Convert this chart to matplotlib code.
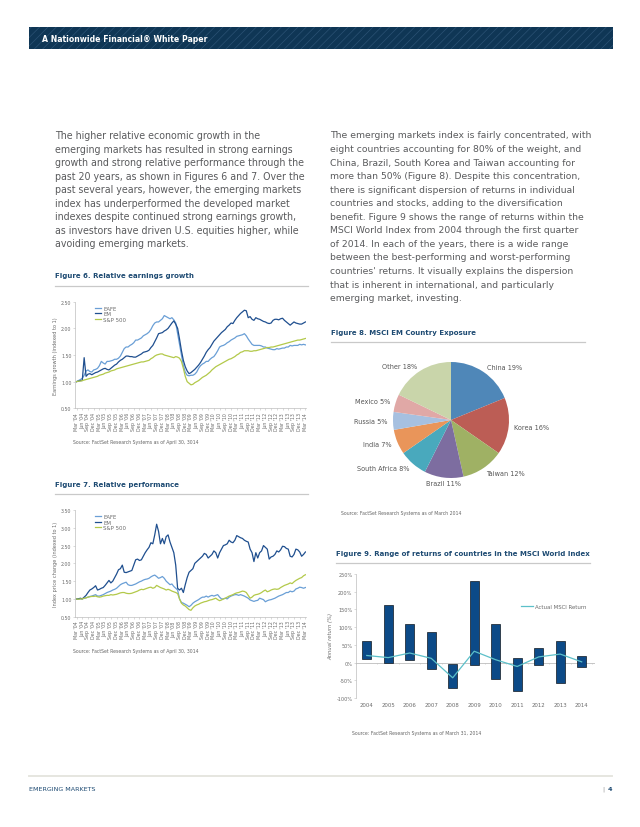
import numpy as np
import matplotlib.pyplot as plt
import matplotlib.patches as mpatches
from matplotlib.lines import Line2D
from matplotlib.ticker import FuncFormatter

plt.rcParams['font.family'] = ['DejaVu Sans']
plt.rcParams['hatch.linewidth'] = 0.5

# ---- data ----
series_names = ['EAFE', 'EM', 'S&P 500']

# Figure 6: earnings growth, monthly Mar '04 .. Mar '14
eps_eafe = [1.00, 1.02, 1.04, 1.06, 1.12, 1.20, 1.22, 1.19, 1.18, 1.22, 1.23, 1.25,
            1.30, 1.38, 1.35, 1.33, 1.38, 1.38, 1.39, 1.40, 1.42, 1.42, 1.44, 1.48,
            1.55, 1.62, 1.65, 1.65, 1.68, 1.70, 1.73, 1.78, 1.78, 1.80, 1.82, 1.86,
            1.88, 1.90, 1.93, 1.98, 2.05, 2.10, 2.12, 2.12, 2.15, 2.18, 2.24, 2.22,
            2.20, 2.18, 2.20, 2.16, 2.10, 1.90, 1.70, 1.50, 1.30, 1.18, 1.12, 1.11,
            1.12, 1.12, 1.14, 1.18, 1.25, 1.30, 1.33, 1.35, 1.38, 1.38, 1.42, 1.45,
            1.47, 1.52, 1.58, 1.65, 1.67, 1.68, 1.70, 1.73, 1.75, 1.78, 1.80, 1.82,
            1.85, 1.86, 1.87, 1.88, 1.90, 1.86, 1.80, 1.75, 1.70, 1.68, 1.68, 1.68,
            1.68, 1.67, 1.65, 1.65, 1.63, 1.62, 1.61, 1.60, 1.60, 1.62, 1.61, 1.62,
            1.63, 1.63, 1.65, 1.65, 1.68, 1.67, 1.68, 1.68, 1.68, 1.70, 1.69, 1.70,
            1.69]
eps_em = [1.00, 1.01, 1.02, 1.02, 1.45, 1.10, 1.14, 1.15, 1.13, 1.15, 1.17, 1.18,
          1.20, 1.22, 1.24, 1.25, 1.23, 1.22, 1.25, 1.28, 1.31, 1.33, 1.37, 1.40,
          1.42, 1.45, 1.48, 1.48, 1.47, 1.47, 1.46, 1.46, 1.48, 1.50, 1.52, 1.55,
          1.56, 1.57, 1.59, 1.64, 1.68, 1.75, 1.82, 1.90, 1.91, 1.92, 1.95, 1.97,
          2.00, 2.05, 2.10, 2.14, 2.08, 2.00, 1.80, 1.58, 1.40, 1.28, 1.20, 1.15,
          1.17, 1.20, 1.23, 1.27, 1.31, 1.36, 1.42, 1.48, 1.55, 1.60, 1.64, 1.70,
          1.76, 1.80, 1.84, 1.88, 1.92, 1.95, 1.98, 2.03, 2.06, 2.10, 2.09, 2.15,
          2.20, 2.24, 2.28, 2.31, 2.34, 2.33, 2.20, 2.22, 2.17, 2.15, 2.20, 2.18,
          2.17, 2.15, 2.13, 2.12, 2.10, 2.09, 2.10, 2.15, 2.17, 2.17, 2.16, 2.18,
          2.19, 2.15, 2.12, 2.09, 2.06, 2.09, 2.12, 2.10, 2.09, 2.08, 2.08, 2.10,
          2.12]
eps_sp = [1.00, 1.01, 1.01, 1.02, 1.03, 1.04, 1.05, 1.06, 1.07, 1.08, 1.09, 1.10,
          1.12, 1.13, 1.14, 1.16, 1.17, 1.18, 1.20, 1.21, 1.22, 1.24, 1.25, 1.26,
          1.27, 1.28, 1.29, 1.30, 1.31, 1.32, 1.33, 1.34, 1.35, 1.36, 1.37, 1.37,
          1.38, 1.39, 1.40, 1.43, 1.45, 1.48, 1.50, 1.51, 1.52, 1.52, 1.50, 1.49,
          1.48, 1.47, 1.46, 1.45, 1.47, 1.46, 1.44, 1.38, 1.25, 1.10, 1.00, 0.97,
          0.94, 0.95, 0.98, 1.00, 1.02, 1.05, 1.08, 1.10, 1.12, 1.15, 1.18, 1.22,
          1.25, 1.28, 1.30, 1.32, 1.34, 1.36, 1.38, 1.40, 1.42, 1.43, 1.45, 1.47,
          1.50, 1.52, 1.55, 1.56, 1.58, 1.58, 1.58, 1.57, 1.57, 1.58, 1.58, 1.59,
          1.60, 1.61, 1.62, 1.63, 1.64, 1.64, 1.65, 1.65, 1.66, 1.67, 1.68, 1.69,
          1.70, 1.71, 1.72, 1.73, 1.74, 1.75, 1.76, 1.77, 1.78, 1.78, 1.79, 1.80,
          1.81]

# Figure 7: index price change, monthly Mar '04 .. Mar '14
px_eafe = [1.00, 1.00, 1.00, 1.00, 1.02, 1.03, 1.05, 1.07, 1.08, 1.10, 1.12, 1.08,
           1.08, 1.10, 1.12, 1.15, 1.18, 1.20, 1.22, 1.25, 1.27, 1.30, 1.35, 1.40,
           1.43, 1.45, 1.47, 1.40, 1.38, 1.38, 1.40, 1.42, 1.45, 1.48, 1.50, 1.53,
           1.55, 1.56, 1.58, 1.62, 1.65, 1.67, 1.63, 1.58, 1.60, 1.63, 1.58, 1.50,
           1.45, 1.40, 1.42, 1.35, 1.30, 1.25, 1.00, 0.90, 0.88, 0.85, 0.82, 0.78,
           0.82, 0.88, 0.92, 0.95, 0.98, 1.02, 1.05, 1.05, 1.08, 1.05, 1.08, 1.10,
           1.08, 1.10, 1.12, 1.05, 1.00, 1.00, 1.02, 1.00, 1.05, 1.08, 1.10, 1.12,
           1.12, 1.10, 1.12, 1.10, 1.08, 1.05, 1.02, 0.97, 0.95, 0.93, 0.95, 0.96,
           1.02, 1.00, 0.98, 0.92, 0.95, 0.97, 0.98, 1.00, 1.02, 1.05, 1.08, 1.10,
           1.12, 1.15, 1.18, 1.18, 1.22, 1.20, 1.22, 1.28, 1.30, 1.33, 1.32, 1.30,
           1.32]
px_em = [1.00, 1.00, 1.02, 1.00, 1.05, 1.10, 1.18, 1.25, 1.28, 1.32, 1.37, 1.25,
         1.27, 1.30, 1.32, 1.38, 1.45, 1.52, 1.45, 1.50, 1.60, 1.70, 1.82, 1.85,
         1.95, 1.75, 1.74, 1.76, 1.78, 1.80, 1.95, 2.10, 2.12, 2.08, 2.10, 2.20,
         2.30, 2.38, 2.45, 2.58, 2.55, 2.80, 3.10, 2.90, 2.55, 2.70, 2.55, 2.75,
         2.80, 2.60, 2.45, 2.30, 1.95, 1.30, 1.25, 1.30, 1.18, 1.40, 1.60, 1.75,
         1.80, 1.85, 2.00, 2.05, 2.10, 2.15, 2.20, 2.28, 2.25, 2.15, 2.20, 2.25,
         2.35, 2.30, 2.15, 2.30, 2.40, 2.50, 2.52, 2.55, 2.65, 2.60, 2.58, 2.65,
         2.78, 2.75, 2.72, 2.70, 2.65, 2.62, 2.60, 2.40, 2.30, 2.05, 2.30, 2.15,
         2.30, 2.35, 2.50, 2.45, 2.40, 2.12, 2.18, 2.20, 2.25, 2.35, 2.32, 2.38,
         2.48, 2.47, 2.42, 2.40, 2.20, 2.18, 2.25, 2.40, 2.38, 2.32, 2.20, 2.25,
         2.32]
px_sp = [1.00, 0.99, 1.00, 1.00, 1.02, 1.03, 1.05, 1.06, 1.07, 1.07, 1.08, 1.06,
         1.05, 1.06, 1.08, 1.09, 1.10, 1.10, 1.12, 1.11, 1.12, 1.13, 1.15, 1.17,
         1.18, 1.18, 1.16, 1.15, 1.15, 1.16, 1.18, 1.20, 1.22, 1.25, 1.27, 1.26,
         1.28, 1.30, 1.32, 1.33, 1.30, 1.32, 1.38, 1.35, 1.32, 1.30, 1.28, 1.25,
         1.27, 1.25, 1.22, 1.20, 1.18, 1.15, 1.00, 0.88, 0.83, 0.80, 0.75, 0.70,
         0.68, 0.75, 0.80, 0.83, 0.85, 0.88, 0.90, 0.92, 0.93, 0.95, 0.97, 0.98,
         1.00, 1.02, 0.98, 0.95, 0.97, 1.00, 1.02, 1.05, 1.08, 1.10, 1.12, 1.15,
         1.17, 1.18, 1.20, 1.22, 1.21, 1.18, 1.10, 1.02, 1.05, 1.10, 1.12, 1.13,
         1.15, 1.18, 1.22, 1.25, 1.20, 1.22, 1.25, 1.27, 1.28, 1.27, 1.28, 1.32,
         1.35, 1.38, 1.40, 1.42, 1.45, 1.43, 1.48, 1.52, 1.55, 1.58, 1.60, 1.65,
         1.68]

quarter_names = ['Mar', 'Jun', 'Sep', 'Dec']
quarter_labels = [f"{quarter_names[i % 4]} '{4 + i // 4:02d}" for i in range(41)]

# Figure 8: MSCI EM country exposure (%)
countries = ['China', 'Korea', 'Taiwan', 'Brazil', 'South Africa', 'India',
             'Russia', 'Mexico', 'Other']
weights = [19, 16, 12, 11, 8, 7, 5, 5, 18]

# Figure 9: range of country returns (%)
years = ['2004', '2005', '2006', '2007', '2008', '2009', '2010', '2011', '2012', '2013', '2014']
ret_high = [60, 163, 110, 85, -5, 231, 108, 14, 41, 61, 19]
ret_low = [10, -2, 8, -18, -71, -8, -45, -80, -6, -57, -13]
msci_ret = [20, 14, 27, 12, -43, 32, 8, -11, 16, 24, 2]

# ---- styles ----
col_eafe = '#6a9fd6'
col_em = '#1f4f8f'
col_sp = '#b3c94a'
navy = '#1d4a72'
body_col = '#5a5b5d'
grey_line = '#c9c9c9'
axis_col = '#bdbdbd'
tick_col = '#6b6b6b'
pie_cols = ['#4f87b8', '#bc5d55', '#9fb164', '#7d6da0', '#49a9bd', '#e9955a',
            '#a6c0e0', '#e0a8a6', '#c9d5aa']

W, H = 640, 828
fig = plt.figure(figsize=(6.4, 8.28), dpi=100)


def add_ax(l, t, r, b):
    return fig.add_axes([l / W, 1 - b / H, (r - l) / W, (b - t) / H])


def ptext(x, y, s, **kw):
    kw.setdefault('va', 'center')
    fig.text(x / W, 1 - y / H, s, **kw)


def hline(x0, x1, y, color, lw):
    fig.add_artist(Line2D([x0 / W, x1 / W], [1 - y / H, 1 - y / H], color=color, lw=lw,
                          transform=fig.transFigure))


# header banner
fig.add_artist(mpatches.Rectangle((29.4 / W, 1 - 50 / H), (613 - 29.4) / W, 21.7 / H,
                                  transform=fig.transFigure, facecolor='#0f3655',
                                  edgecolor='#2a5274', hatch='////', lw=0))
ptext(41.7, 39.2, 'A Nationwide Financial® White Paper', color='white',
      fontsize=5.6, fontweight='bold')

# body text
left_lines = [
    "The higher relative economic growth in the",
    "emerging markets has resulted in strong earnings",
    "growth and strong relative performance through the",
    "past 20 years, as shown in Figures 6 and 7. Over the",
    "past several years, however, the emerging markets",
    "index has underperformed the developed market",
    "indexes despite continued strong earnings growth,",
    "as investors have driven U.S. equities higher, while",
    "avoiding emerging markets.",
]
right_lines = [
    "The emerging markets index is fairly concentrated, with",
    "eight countries accounting for 80% of the weight, and",
    "China, Brazil, South Korea and Taiwan accounting for",
    "more than 50% (Figure 8). Despite this concentration,",
    "there is significant dispersion of returns in individual",
    "countries and stocks, adding to the diversification",
    "benefit. Figure 9 shows the range of returns within the",
    "MSCI World Index from 2004 through the first quarter",
    "of 2014. In each of the years, there is a wide range",
    "between the best-performing and worst-performing",
    "countries' returns. It visually explains the dispersion",
    "that is inherent in international, and particularly",
    "emerging market, investing.",
]
for i, s in enumerate(left_lines):
    ptext(55, 136 + i * 13.55, s, fontsize=6.85, color=body_col)
for i, s in enumerate(right_lines):
    ptext(330, 136 + i * 13.55, s, fontsize=6.7, color=body_col)

src_kw = dict(fontsize=3.3, color='#666666')


def line_chart(ax, eafe, em, sp, ylim, yticks, ylabel):
    xs = np.arange(len(em))
    ax.plot(xs, eafe, color=col_eafe, lw=0.9, label=series_names[0])
    ax.plot(xs, em, color=col_em, lw=0.9, label=series_names[1])
    ax.plot(xs, sp, color=col_sp, lw=0.9, label=series_names[2])
    ax.set_xlim(-0.8, 120.3)
    ax.set_ylim(*ylim)
    ax.set_yticks(yticks)
    ax.yaxis.set_major_formatter(FuncFormatter(lambda v, p: f'{v:.2f}'))
    ax.set_xticks(np.arange(0, 121, 3))
    ax.set_xticklabels(quarter_labels, rotation=90)
    for s in ['top', 'right']:
        ax.spines[s].set_visible(False)
    for s in ['left', 'bottom']:
        ax.spines[s].set_color(axis_col)
        ax.spines[s].set_linewidth(0.5)
    ax.tick_params(axis='both', length=1.5, width=0.4, color=axis_col,
                   labelsize=3.4, labelcolor=tick_col, pad=1)
    ax.set_ylabel(ylabel, fontsize=3.6, color=tick_col, labelpad=2)
    ax.legend(loc='upper left', bbox_to_anchor=(0.085, 0.96), frameon=False,
              fontsize=3.9, handlelength=1.2, handletextpad=0.4, labelspacing=0.05,
              borderpad=0, borderaxespad=0, labelcolor=tick_col)


title_kw = dict(fontsize=5.0, fontweight='bold', color=navy)

# Figure 6
ptext(55, 276, 'Figure 6. Relative earnings growth', **title_kw)
hline(55, 308, 286.7, grey_line, 0.9)
ax6 = add_ax(75, 302.7, 306, 409.3)
line_chart(ax6, eps_eafe, eps_em, eps_sp, (0.5, 2.5), [0.5, 1.0, 1.5, 2.0, 2.5],
           'Earnings growth (indexed to 1)')
ptext(72.7, 442.7, 'Source: FactSet Research Systems as of April 30, 3014', **src_kw)

# Figure 7
ptext(55, 485, 'Figure 7. Relative performance', **title_kw)
hline(55, 308, 495, grey_line, 0.9)
ax7 = add_ax(75, 511, 306, 617.7)
line_chart(ax7, px_eafe, px_em, px_sp, (0.5, 3.5), [0.5, 1.0, 1.5, 2.0, 2.5, 3.0, 3.5],
           'Index price change (indexed to 1)')
ptext(73.3, 651, 'Source: FactSet Research Systems as of April 30, 3014', **src_kw)

# Figure 8
ptext(331, 333.3, 'Figure 8. MSCI EM Country Exposure', **title_kw)
hline(331, 585, 343.3, grey_line, 0.9)
ax8 = add_ax(451 - 58, 421 - 58, 451 + 58, 421 + 58)
pie_labels = [f'{c} {w}%' for c, w in zip(countries, weights)]
wedges, texts = ax8.pie(weights, labels=pie_labels, colors=pie_cols, startangle=90,
                        counterclock=False, labeldistance=1.1,
                        textprops=dict(fontsize=4.7, color='#555555'))
texts[3].set_ha('center')
ax8.set_xlim(-1, 1)
ax8.set_ylim(-1, 1)
ax8.set_aspect('equal')
ptext(340.7, 513.3, 'Source: FactSet Research Systems as of March 2014', **src_kw)

# Figure 9
ptext(336, 554, 'Figure 9. Range of returns of countries in the MSCI World Index', **title_kw)
hline(336, 590, 564, grey_line, 0.9)
ax9 = add_ax(356, 575, 595, 699)
xs9 = np.arange(len(years))
lo = np.array(ret_low)
hi = np.array(ret_high)
ax9.bar(xs9, hi - lo, bottom=lo, width=0.43, color='#0c4a87', edgecolor='#101820', lw=0.5,
        zorder=3)
ax9.plot(xs9, msci_ret, color='#5cc0c9', lw=0.9, zorder=4, label='Actual MSCI Return')
ax9.axhline(0, color=axis_col, lw=0.6, zorder=2)
ax9.vlines(np.arange(-0.5, len(years)), -4, 0, color=axis_col, lw=0.4, zorder=2)
ax9.set_xlim(-0.5, 10.62)
ax9.set_ylim(-100, 250)
ax9.set_yticks(np.arange(-100, 251, 50))
ax9.yaxis.set_major_formatter(FuncFormatter(lambda v, p: f'{v:.0f}%'))
ax9.set_xticks(xs9)
ax9.set_xticklabels(years)
for s in ['top', 'right', 'bottom']:
    ax9.spines[s].set_visible(False)
ax9.spines['left'].set_color(axis_col)
ax9.spines['left'].set_linewidth(0.5)
ax9.tick_params(axis='y', length=1.5, width=0.4, color=axis_col, labelsize=3.6,
                labelcolor=tick_col, pad=1)
ax9.tick_params(axis='x', length=0, labelsize=3.9, labelcolor=tick_col, pad=3)
ax9.set_ylabel('Annual return (%)', fontsize=3.8, color=tick_col, style='italic', labelpad=2)
ax9.legend(loc='center left', bbox_to_anchor=(0.68, 0.735), frameon=False, fontsize=3.9,
           handlelength=2.2, handletextpad=0.3, borderpad=0, labelcolor=tick_col)
ptext(351.7, 734, 'Source: FactSet Research Systems as of March 31, 2014', **src_kw)

# footer
hline(28.6, 612, 777.4, '#e6e6e0', 1.4)
ptext(28.6, 789.2, 'EMERGING MARKETS', fontsize=4.6, color=navy)
ptext(612, 789.2, '4', fontsize=4.6, color=navy, ha='right', fontweight='bold')
ptext(604, 789.2, '|', fontsize=4.6, color='#999999', ha='right')

fig.savefig('out.png', dpi=100)
